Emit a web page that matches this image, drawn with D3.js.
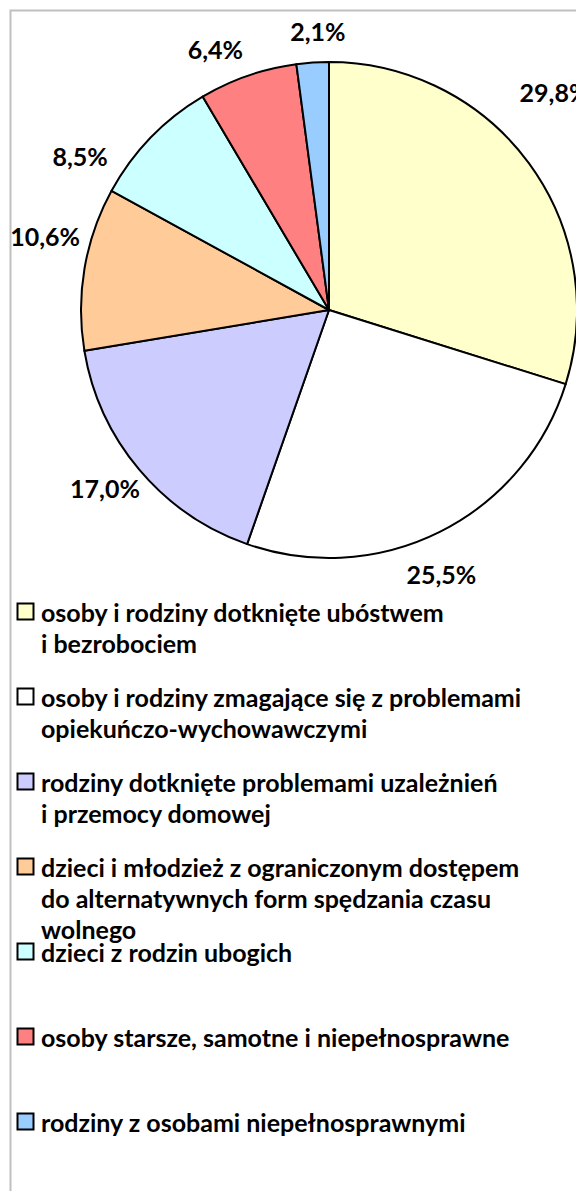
<!DOCTYPE html>
<html>
<head>
<meta charset="utf-8">
<script src="https://cdn.jsdelivr.net/npm/d3@7"></script>
<style>
  body { margin: 0; background: #fff; }
  svg { display: block; }
  .pct { font-family: Lato, "Open Sans", sans-serif; font-weight: 700; font-size: 25px; fill: #000; }
  .legend-text { font-family: Lato, "Open Sans", sans-serif; font-weight: 700; font-size: 25px; fill: #000; }
</style>
</head>
<body>
<div id="chart"></div>
<script>
// Data
const categories = [
  ['osoby i rodziny dotknięte ubóstwem', 'i bezrobociem'],
  ['osoby i rodziny zmagające się z problemami', 'opiekuńczo-wychowawczymi'],
  ['rodziny dotknięte problemami uzależnień', 'i przemocy domowej'],
  ['dzieci i młodzież z ograniczonym dostępem', 'do alternatywnych form spędzania czasu', 'wolnego'],
  ['dzieci z rodzin ubogich'],
  ['osoby starsze, samotne i niepełnosprawne'],
  ['rodziny z osobami niepełnosprawnymi']
];
const values = [29.8, 25.5, 17.0, 10.6, 8.5, 6.4, 2.1];
const colors = ['#FFFFCC', '#FFFFFF', '#CCCCFF', '#FFCC99', '#CCFFFF', '#FF8080', '#99CCFF'];

// label placement tweaks (angle offset in degrees, distance past the rim)
const labelTweak = [[-7.6, 65], [3.7, 40], [1.4, 39], [4.7, 45], [-12.5, 44], [-4.5, 36], [1.5, 30]];

const W = 576, H = 1191;
const cx = 329, cy = 310, radius = 248;

const svg = d3.select('#chart').append('svg')
  .attr('width', W)
  .attr('height', H);

// chart frame (runs off the right and bottom edge)
svg.append('rect')
  .attr('x', 10.5).attr('y', 10.5)
  .attr('width', 800).attr('height', 1400)
  .attr('fill', 'none')
  .attr('stroke', '#C0C0C0')
  .attr('stroke-width', 2);

const pl = d3.formatLocale({ decimal: ',', thousands: ' ', grouping: [3], currency: ['', ' zł'] });
const fmt = pl.format('.1f');

const pie = d3.pie().sort(null).value(d => d);
const arcs = pie(values);
const arc = d3.arc().innerRadius(0).outerRadius(radius);

const g = svg.append('g').attr('transform', `translate(${cx},${cy})`);

g.selectAll('path')
  .data(arcs)
  .join('path')
  .attr('d', arc)
  .attr('fill', (d, i) => colors[i])
  .attr('stroke', '#000')
  .attr('stroke-width', 2)
  .attr('stroke-linejoin', 'round');

g.selectAll('text.pct')
  .data(arcs)
  .join('text')
  .attr('class', 'pct')
  .attr('text-anchor', 'middle')
  .attr('dy', '0.35em')
  .attr('x', (d, i) => {
    const a = (d.startAngle + d.endAngle) / 2 + labelTweak[i][0] * Math.PI / 180;
    return (radius + labelTweak[i][1]) * Math.sin(a);
  })
  .attr('y', (d, i) => {
    const a = (d.startAngle + d.endAngle) / 2 + labelTweak[i][0] * Math.PI / 180;
    return -(radius + labelTweak[i][1]) * Math.cos(a);
  })
  .text(d => fmt(d.data) + '%');

// Legend
const legendY = d3.scalePoint()
  .domain(d3.range(categories.length))
  .range([611.5, 1121.5]);

const lineH = 31;
const items = svg.append('g').selectAll('g')
  .data(categories)
  .join('g')
  .attr('transform', (d, i) => `translate(0,${legendY(i)})`);

items.append('rect')
  .attr('x', 17.5).attr('y', -8)
  .attr('width', 16).attr('height', 16)
  .attr('fill', (d, i) => colors[i])
  .attr('stroke', '#000')
  .attr('stroke-width', 2);

items.append('text')
  .attr('class', 'legend-text')
  .attr('x', 41)
  .attr('y', 10)
  .selectAll('tspan')
  .data(d => d)
  .join('tspan')
  .attr('x', 41)
  .attr('dy', (d, j) => j === 0 ? 0 : lineH)
  .text(d => d);
</script>
</body>
</html>
